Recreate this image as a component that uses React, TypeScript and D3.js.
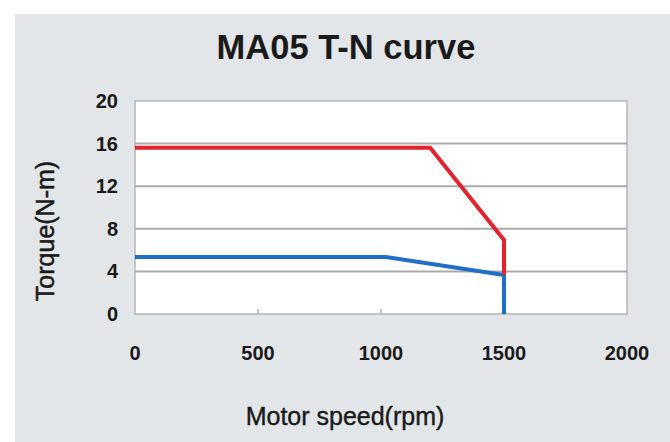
import React from "react";
import * as d3 from "d3";

const title = "MA05 T-N curve";
const xTitle = "Motor speed(rpm)";
const yTitle = "Torque(N-m)";
const xTicks = [0, 500, 1000, 1500, 2000];
const yTicks = [0, 4, 8, 12, 16, 20];
const redSpeed = [0, 1200, 1500, 1500];
const redTorque = [15.6, 15.6, 6.95, 3.66];
const blueSpeed = [0, 1020, 1500, 1500];
const blueTorque = [5.35, 5.35, 3.66, 0];

const W = 670;
const H = 442;
const left = 135, right = 627, top = 101, bottom = 314;

export default function App() {
  const x = d3.scaleLinear().domain([0, 2000]).range([left, right]);
  const y = d3.scaleLinear().domain([0, 20]).range([bottom, top]);
  const line = d3
    .line<[number, number]>()
    .x((d) => x(d[0]))
    .y((d) => y(d[1]));
  const red = redSpeed.map((s, i) => [s, redTorque[i]] as [number, number]);
  const blue = blueSpeed.map((s, i) => [s, blueTorque[i]] as [number, number]);
  const font = "'Liberation Sans', Arial, sans-serif";
  return (
    <svg
      width={W}
      height={H}
      style={{ position: "absolute", left: 0, top: 0, display: "block" }}
    >
      <rect x={0} y={0} width={W} height={H} fill="#ffffff" />
      <rect x={15} y={14} width={W - 15} height={H - 14} fill="#e3e6e8" />
      <text
        x={346}
        y={59}
        textAnchor="middle"
        fontFamily={font}
        fontWeight="bold"
        fontSize={34.5}
        fill="#1a1a1a"
      >
        {title}
      </text>
      <rect x={left} y={top} width={right - left} height={bottom - top} fill="#ffffff" stroke="#b4b6b8" strokeWidth={1.5} />
      {yTicks.slice(1, -1).map((t) => (
        <line key={t} x1={left} x2={right} y1={y(t)} y2={y(t)} stroke="#aaaaaa" strokeWidth={2} />
      ))}
      {xTicks.slice(1, -1).map((t) => (
        <line key={t} x1={x(t)} x2={x(t)} y1={bottom} y2={bottom - 5} stroke="#b0b0b0" strokeWidth={1.5} />
      ))}
      <path d={line(blue) || ""} fill="none" stroke="#1f6fc6" strokeWidth={4} strokeLinejoin="miter" />
      <path d={line(red) || ""} fill="none" stroke="#e3222b" strokeWidth={4} strokeLinejoin="miter" />
      {yTicks.map((t) => (
        <text
          key={t}
          x={118}
          y={y(t) + 7}
          textAnchor="end"
          fontFamily={font}
          fontWeight="bold"
          fontSize={20}
          fill="#1a1a1a"
        >
          {t}
        </text>
      ))}
      {xTicks.map((t) => (
        <text
          key={t}
          x={x(t)}
          y={360}
          textAnchor="middle"
          fontFamily={font}
          fontWeight="bold"
          fontSize={20}
          fill="#1a1a1a"
        >
          {t}
        </text>
      ))}
      <text
        x={345}
        y={425}
        textAnchor="middle"
        fontFamily={font}
        fontSize={25}
        fill="#1a1a1a"
        stroke="#1a1a1a"
        strokeWidth={0.4}
      >
        {xTitle}
      </text>
      <text
        transform="translate(54,231) rotate(-90)"
        textAnchor="middle"
        fontFamily={font}
        fontSize={25}
        fill="#1a1a1a"
        stroke="#1a1a1a"
        strokeWidth={0.5}
      >
        {yTitle}
      </text>
    </svg>
  );
}
